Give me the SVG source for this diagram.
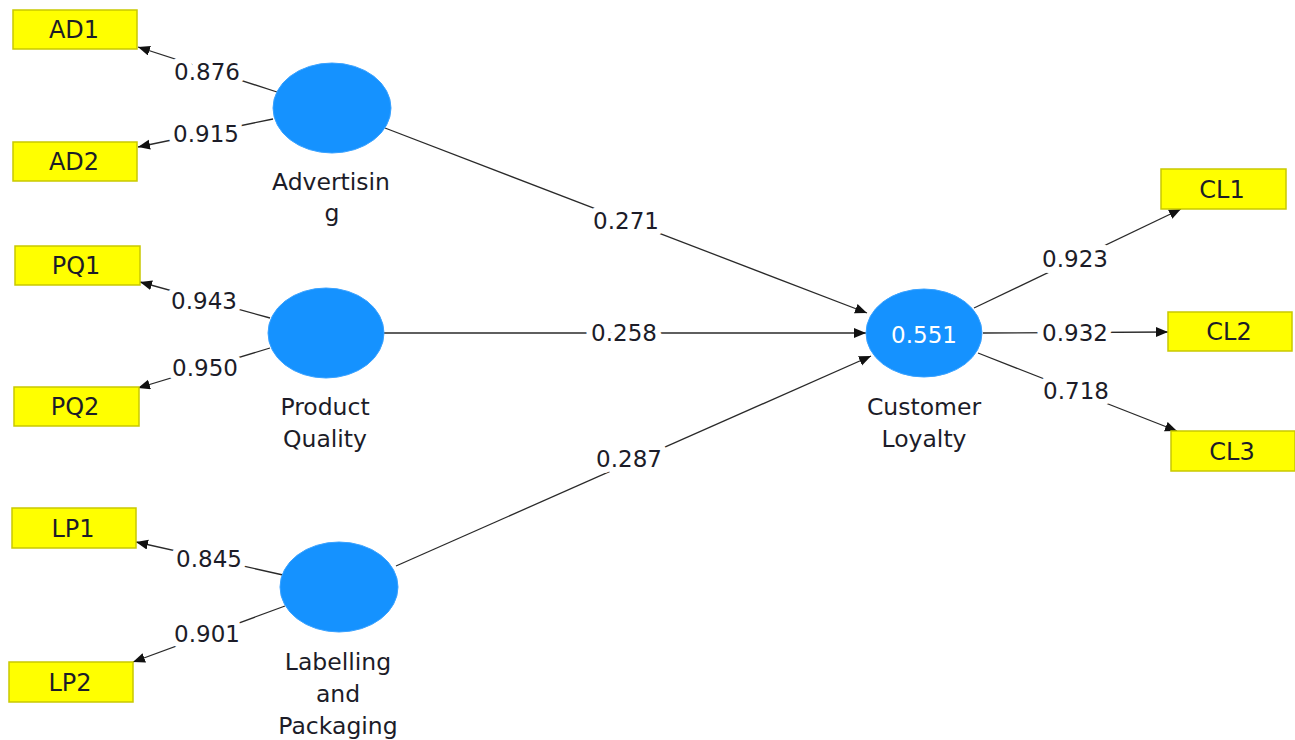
<svg xmlns="http://www.w3.org/2000/svg" width="1295" height="740" viewBox="0 0 1295 740">
<style>
.box{fill:#ffff00;stroke:#c9c900;stroke-width:1.5}
.lv{fill:#1592ff;stroke:#3aa2ff;stroke-width:1}
.t{font-family:"DejaVu Sans","Noto Sans",sans-serif;font-size:23.5px;fill:#1c1c28;text-anchor:middle}
.b{font-family:"DejaVu Sans","Noto Sans",sans-serif;font-size:24px;fill:#1c1c28;text-anchor:middle}
.c{font-family:"DejaVu Sans","Noto Sans",sans-serif;font-size:23px;fill:#1c1c28;text-anchor:middle;stroke:#fff;stroke-width:12;paint-order:stroke;stroke-linejoin:round}
.e{stroke:#2a2a2a;stroke-width:1.3;fill:none;marker-end:url(#ah)}
</style>
<defs>
<marker id="ah" markerUnits="userSpaceOnUse" markerWidth="14" markerHeight="12" refX="12" refY="5" orient="auto">
<path d="M0,0 L12,5 L0,10 Z" fill="#111"/>
</marker>
</defs>
<rect width="1295" height="740" fill="#fff"/>
<g id="connectors">
<line class="e" x1="277" y1="92" x2="138" y2="47"/>
<line class="e" x1="273" y1="119" x2="138" y2="147"/>
<line class="e" x1="270" y1="318" x2="140" y2="282"/>
<line class="e" x1="270" y1="348" x2="138" y2="388"/>
<line class="e" x1="283" y1="575" x2="136" y2="542"/>
<line class="e" x1="285" y1="606" x2="133" y2="662"/>
<line class="e" x1="385" y1="128" x2="867" y2="313"/>
<line class="e" x1="384" y1="333" x2="866" y2="333"/>
<line class="e" x1="396" y1="566" x2="871" y2="356"/>
<line class="e" x1="974" y1="308" x2="1181" y2="209"/>
<line class="e" x1="983" y1="333" x2="1168" y2="332"/>
<line class="e" x1="978" y1="353" x2="1177" y2="431"/>
<text class="c" x="207" y="80">0.876</text>
<text class="c" x="206" y="142">0.915</text>
<text class="c" x="204" y="309">0.943</text>
<text class="c" x="205" y="376">0.950</text>
<text class="c" x="209" y="567">0.845</text>
<text class="c" x="207" y="642">0.901</text>
<text class="c" x="626" y="229">0.271</text>
<text class="c" x="624" y="341">0.258</text>
<text class="c" x="629" y="467">0.287</text>
<text class="c" x="1075" y="267">0.923</text>
<text class="c" x="1075" y="341">0.932</text>
<text class="c" x="1076" y="399">0.718</text>
</g>
<g id="AD1"><rect class="box" x="13" y="10" width="124" height="39"/><text class="b" x="74" y="38">AD1</text></g>
<g id="AD2"><rect class="box" x="13" y="142" width="124" height="39"/><text class="b" x="74" y="170">AD2</text></g>
<g id="PQ1"><rect class="box" x="15" y="246" width="125" height="39"/><text class="b" x="76" y="274">PQ1</text></g>
<g id="PQ2"><rect class="box" x="14" y="387" width="125" height="39"/><text class="b" x="75" y="415">PQ2</text></g>
<g id="LP1"><rect class="box" x="12" y="508" width="124" height="40"/><text class="b" x="73" y="537">LP1</text></g>
<g id="LP2"><rect class="box" x="9" y="662" width="124" height="40"/><text class="b" x="70" y="691">LP2</text></g>
<g id="CL1"><rect class="box" x="1161" y="169" width="125" height="40"/><text class="b" x="1222" y="198">CL1</text></g>
<g id="CL2"><rect class="box" x="1168" y="312" width="124" height="39"/><text class="b" x="1229" y="340">CL2</text></g>
<g id="CL3"><rect class="box" x="1171" y="431" width="124" height="40"/><text class="b" x="1232" y="460">CL3</text></g>
<g id="Advertising"><ellipse class="lv" cx="332" cy="108" rx="59" ry="45"/><text class="t" x="331" y="190">Advertisin</text><text class="t" x="332" y="221">g</text></g>
<g id="ProductQuality"><ellipse class="lv" cx="326" cy="333" rx="58" ry="45"/><text class="t" x="325" y="415">Product</text><text class="t" x="325" y="447">Quality</text></g>
<g id="LabellingPackaging"><ellipse class="lv" cx="339" cy="587" rx="59" ry="45"/><text class="t" x="338" y="670">Labelling</text><text class="t" x="338" y="702">and</text><text class="t" x="338" y="734">Packaging</text></g>
<g id="CustomerLoyalty"><ellipse class="lv" cx="924" cy="333" rx="58" ry="44"/><text class="c" x="924" y="343" style="fill:#fff;stroke:none">0.551</text><text class="t" x="924" y="415">Customer</text><text class="t" x="924" y="447">Loyalty</text></g>
</svg>
